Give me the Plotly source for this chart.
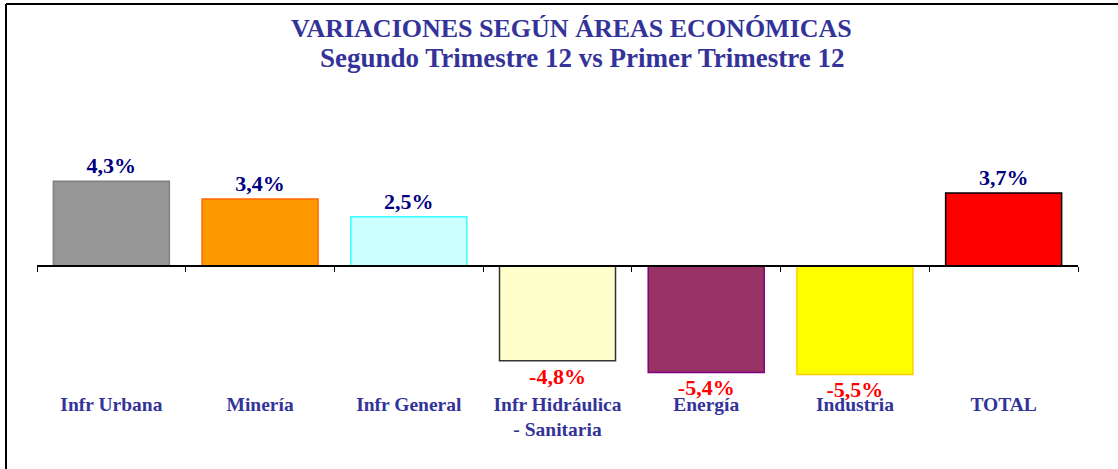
import plotly.graph_objects as go

categories = ["Infr Urbana", "Minería", "Infr General", "Infr Hidráulica<br>- Sanitaria",
              "Energía", "Industria", "TOTAL"]
values = [4.3, 3.4, 2.5, -4.8, -5.4, -5.5, 3.7]
fill_colors = ["#969696", "#FF9900", "#CCFFFF", "#FFFFCC", "#993366", "#FFFF00", "#FF0000"]
line_colors = ["#808080", "#FF6600", "#33FFFF", "#333333", "#800080", "#FFCC00", "#000000"]
title_lines = ["VARIACIONES SEGÚN ÁREAS ECONÓMICAS", "Segundo Trimestre 12 vs Primer Trimestre 12"]

W, H = 1118, 469
ML, MR, MT, MB = 37, 40, 80, 79
YMIN, YMAX = -6.29, 9.44

label_colors = ["#000080" if v >= 0 else "#FF0000" for v in values]
serif = "Liberation Serif, Times New Roman, serif"

fig = go.Figure()
fig.add_trace(go.Bar(
    x=categories, y=values,
    marker=dict(color=fill_colors, line=dict(color=line_colors, width=1.5)),
    texttemplate="<b>%{y:.1f}%</b>", textposition="outside",
    textfont=dict(family=serif, size=22, color=label_colors),
    cliponaxis=False, hoverinfo="skip", showlegend=False,
))
# invisible helper trace for the category-label axis
fig.add_trace(go.Scatter(
    x=categories, y=values, xaxis="x2", mode="markers",
    marker=dict(opacity=0), hoverinfo="skip", showlegend=False,
))

zero_pos = (0 - YMIN) / (YMAX - YMIN)
plot_w = W - ML - MR
plot_h = H - MT - MB

def px_to_paper_x(px):
    return (px - ML) / plot_w

def px_to_paper_y(py):
    return (H - MB - py) / plot_h

tick_text = ["<b>%s</b>" % c for c in categories]

fig.update_layout(
    width=W, height=H,
    margin=dict(l=ML, r=MR, t=MT, b=MB),
    paper_bgcolor="white", plot_bgcolor="white",
    separators=",.",
    bargap=0.22,
    xaxis=dict(
        type="category", categoryorder="array", categoryarray=categories,
        range=[-0.5, len(categories) - 0.5],
        anchor="free", position=zero_pos,
        showline=True, linecolor="#000000", linewidth=1.5,
        ticks="outside", tickson="boundaries", ticklen=5, tickcolor="#000000",
        showticklabels=False, showgrid=False, zeroline=False,
    ),
    xaxis2=dict(
        type="category", categoryorder="array", categoryarray=categories,
        range=[-0.5, len(categories) - 0.5],
        overlaying="x", anchor="y", side="bottom",
        tickmode="array", tickvals=categories, ticktext=tick_text,
        showline=False, ticks="", showgrid=False, zeroline=False,
        tickfont=dict(family=serif, size=19.5, color="#333399"),
    ),
    yaxis=dict(range=[YMIN, YMAX], visible=False, showgrid=False, zeroline=False),
    annotations=[
        dict(text="<b>%s</b>" % title_lines[0], xref="paper", yref="paper",
             x=px_to_paper_x(571.5), y=px_to_paper_y(28), xanchor="center", yanchor="middle",
             showarrow=False, font=dict(family=serif, size=26, color="#333399")),
        dict(text="<b>%s</b>" % title_lines[1], xref="paper", yref="paper",
             x=px_to_paper_x(582), y=px_to_paper_y(58), xanchor="center", yanchor="middle",
             showarrow=False, font=dict(family=serif, size=27, color="#333399")),
    ],
    shapes=[
        dict(type="line", xref="paper", yref="paper",
             x0=px_to_paper_x(6), x1=px_to_paper_x(6),
             y0=px_to_paper_y(H + 5), y1=px_to_paper_y(4),
             line=dict(color="#000000", width=2)),
        dict(type="line", xref="paper", yref="paper",
             x0=px_to_paper_x(6), x1=px_to_paper_x(W + 5),
             y0=px_to_paper_y(4), y1=px_to_paper_y(4),
             line=dict(color="#000000", width=2)),
    ],
)

fig.write_html("out.html", config={"displayModeBar": False},
               post_script="document.body.style.margin='0';")
